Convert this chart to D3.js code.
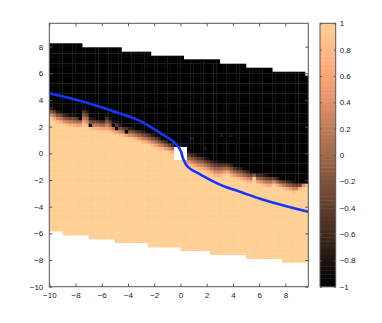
<!DOCTYPE html>
<html>
<head>
<meta charset="utf-8">
<script src="https://cdn.jsdelivr.net/npm/d3@7"></script>
<style>
  body { margin: 0; background: #fff; }
  svg text { font-family: "Liberation Sans", Arial, sans-serif; font-size: 8px; fill: #222; }
</style>
</head>
<body>
<div id="chart"></div>
<script>
// ---- data ----
var xTicks = [-10, -8, -6, -4, -2, 0, 2, 4, 6, 8];
var yTicks = [-10, -8, -6, -4, -2, 0, 2, 4, 6, 8];
var cbTicks = [-1, -0.8, -0.6, -0.4, -0.2, 0, 0.2, 0.4, 0.6, 0.8, 1];

// lower edge of the -1 (black) zone, one value per 0.25 column from x=-10
var darkEdge = [3.5, 3.45, 3.25, 3.2, 3.05, 3.0, 2.95, 2.95, 2.9, 2.9,
  3.45, 3.3, 2.75, 2.7, 2.65, 2.6, 2.6, 2.95, 2.7, 2.5,
  2.45, 2.25, 2.15, 2.1, 2.0, 1.95, 1.9, 1.85, 1.75, 1.7,
  1.6, 1.5, 1.4, 1.3, 1.15, 1.05, 0.9, 0.8, 0.65, 0.5,
  0.4, 0.3, 0.2, 0.1, 0.05, -0.05, -0.1, -0.2, -0.3, -0.4,
  -0.5, -0.55, -0.55, -0.6, -0.65, -0.7, -0.85, -0.95, -1.0, -1.1,
  -1.2, -1.35, -1.45, -1.45, -1.45, -1.5, -1.55, -1.6, -1.7, -1.75,
  -1.85, -1.9, -1.95, -2.0, -2.05, -2.15, -2.2, -2.2, -2.15];

// upper edge of the +1 (light) zone, same columns
var lightEdge = [2.6, 2.45, 2.3, 2.2, 2.1, 2.05, 2.0, 1.95, 1.9, 1.9,
  2.05, 1.95, 1.8, 1.75, 1.75, 1.7, 1.65, 1.6, 1.55, 1.45,
  1.35, 1.3, 1.25, 1.15, 1.1, 1.05, 0.95, 0.85, 0.75, 0.7,
  0.6, 0.5, 0.4, 0.3, 0.25, 0.15, 0.1, 0.0, -0.15, -0.35,
  -0.6, -0.8, -0.95, -1.05, -1.15, -1.25, -1.3, -1.4, -1.5, -1.65,
  -1.8, -1.8, -1.75, -1.65, -1.6, -1.8, -1.9, -2.0, -2.05, -2.15,
  -2.2, -2.25, -1.85, -2.3, -2.4, -2.5, -2.55, -2.55, -2.35, -2.5,
  -2.6, -2.7, -2.8, -2.85, -2.95, -2.9, -2.7, -2.45, -2.4];

// stepped outline of the data band
var topStepX = [-10, -7.58, -4.55, -2.18, 0.23, 2.9, 5.0, 7.1, 9.5, 9.75];
var topStepY = [8.25, 7.95, 7.62, 7.32, 7.05, 6.72, 6.42, 6.12, 5.82];
var botStepX = [-10, -9.1, -7.0, -4.9, -2.5, -0.1, 2.27, 5.0, 7.7, 9.75];
var botStepY = [-5.83, -6.13, -6.43, -6.7, -7.03, -7.3, -7.6, -7.9, -8.18];

// stray cells: [x, y, value]
var specks = [[-7.625, 2.625, -1], [-6.875, 2.125, -1], [-4.875, 1.875, -1],
  [-4.125, 1.625, -1], [-5.125, 2.125, -1], [0.875, 1.125, -0.8], [1.875, 0.375, -0.85],
  [3.125, 1.375, -0.85], [3.875, 1.375, -0.85]];

// empty cells near the origin
var hole = {x0: -0.4, x1: 0.45, y0: -0.45, y1: 0.5};

// blue curve
var curveX = [-10, -8.5, -7, -5, -3.5, -2.5, -1.5, -0.7, -0.2, 0.05, 0.2, 0.55, 1.6, 3.1, 4.6, 6.2, 7.8, 9.75];
var curveY = [4.5, 4.15, 3.75, 3.12, 2.62, 2.12, 1.5, 1.0, 0.55, 0.12, -0.38, -1.0, -1.63, -2.38, -2.9, -3.45, -3.9, -4.38];

// ---- layout ----
var W = 382, H = 323;
var plot = {left: 49.3, right: 308.3, top: 23.3, bottom: 286.7};
var cb = {left: 320, right: 335.7};
var step = 0.25;

var x = d3.scaleLinear().domain([-10, 9.75]).range([plot.left, plot.right]);
var y = d3.scaleLinear().domain([-10, 9.75]).range([plot.bottom, plot.top]);
var cbY = d3.scaleLinear().domain([-1, 1]).range([plot.bottom, plot.top]);

// copper-like colormap, slightly lighter at the top end like the picture
function copper(v){
  var t = (v + 1) / 2;
  return d3.rgb(255 * Math.min(1, 1.25 * t), 255 * 0.81 * t, 255 * 0.58 * t);
}

function stepVal(xs, ys, xv){
  for (var k = 0; k < ys.length; k++){
    if (xv >= xs[k] && xv < xs[k + 1]) return ys[k];
  }
  return ys[ys.length - 1];
}

var svg = d3.select("#chart").append("svg")
    .attr("width", W)
    .attr("height", H);

svg.append("defs").append("clipPath").attr("id", "clip")
  .append("rect")
    .attr("x", plot.left).attr("y", plot.top)
    .attr("width", plot.right - plot.left).attr("height", plot.bottom - plot.top);

// build cells
var cells = [];
darkEdge.forEach(function(dk, i){
  var x0 = -10 + i * step, x1 = x0 + step, xc = x0 + step / 2;
  var top = stepVal(topStepX, topStepY, xc),
    bot = stepVal(botStepX, botStepY, xc),
    lt = lightEdge[i];
  for (var y0 = -10; y0 < 9.75; y0 += step){
    var ya = Math.max(y0, bot), yb = Math.min(y0 + step, top);
    if (yb <= ya) continue;
    var yc = y0 + step / 2;
    if (xc > hole.x0 && xc < hole.x1 && yc > hole.y0 && yc < hole.y1) continue;
    var v;
    if (yc >= dk) v = -1;
    else if (yc <= lt) v = 1;
    else v = 1 - 2 * (yc - lt) / (dk - lt);
    specks.forEach(function(s){
      if (Math.abs(s[0] - xc) < 0.01 && Math.abs(s[1] - yc) < 0.01) v = s[2];
    });
    cells.push({x0: x0, x1: x1, y0: ya, y1: yb, v: v});
  }
});

var g = svg.append("g").attr("clip-path", "url(#clip)");

g.selectAll(".cell")
    .data(cells)
  .enter().append("rect")
    .attr("class", "cell")
    .attr("x", function(d){ return x(d.x0); })
    .attr("y", function(d){ return y(d.y1); })
    .attr("width", function(d){ return x(d.x1) - x(d.x0) + 0.3; })
    .attr("height", function(d){ return y(d.y0) - y(d.y1) + 0.3; })
    .attr("fill", function(d){ return copper(d.v); });

var line = d3.line()
    .x(function(d){ return x(d[0]); })
    .y(function(d){ return y(d[1]); })
    .curve(d3.curveCatmullRom.alpha(0.5));

g.append("path")
    .datum(curveX.map(function(v, i){ return [v, curveY[i]]; }))
    .attr("d", line)
    .attr("fill", "none")
    .attr("stroke", "#1236ff")
    .attr("stroke-width", 2.6);

// axes (MATLAB style: inward ticks on all four sides)
function drawAxis(axis, tr){
  var a = svg.append("g").attr("transform", tr).call(axis);
  a.select(".domain").remove();
  a.selectAll(".tick line").attr("stroke", "#555");
  a.selectAll(".tick text").attr("fill", "#222").style("font-size", "8px");
  return a;
}

drawAxis(d3.axisBottom(x).tickValues(xTicks).tickSize(-3).tickPadding(6).tickFormat(d3.format("d")),
  "translate(0," + plot.bottom + ")");
drawAxis(d3.axisTop(x).tickValues(xTicks).tickSize(-3).tickFormat(""),
  "translate(0," + plot.top + ")");
drawAxis(d3.axisLeft(y).tickValues(yTicks).tickSize(-3).tickPadding(6).tickFormat(d3.format("d")),
  "translate(" + plot.left + ",0)");
drawAxis(d3.axisRight(y).tickValues(yTicks).tickSize(-3).tickFormat(""),
  "translate(" + plot.right + ",0)");

svg.append("rect")
    .attr("x", plot.left).attr("y", plot.top)
    .attr("width", plot.right - plot.left).attr("height", plot.bottom - plot.top)
    .attr("fill", "none")
    .attr("stroke", "#555")
    .attr("stroke-width", 1);

// colorbar
var levels = d3.range(64).map(function(k){ return -1 + 2 * k / 64; });
svg.selectAll(".cb")
    .data(levels)
  .enter().append("rect")
    .attr("class", "cb")
    .attr("x", cb.left)
    .attr("y", function(d){ return cbY(d + 2 / 64); })
    .attr("width", cb.right - cb.left)
    .attr("height", cbY(-1) - cbY(-1 + 2 / 64) + 0.4)
    .attr("fill", function(d){ return copper(d + 1 / 64); });

drawAxis(d3.axisRight(cbY).tickValues(cbTicks).tickSize(-2).tickPadding(4)
    .tickFormat(function(d){ return d === 0 ? "0" : (Math.abs(d) === 1 ? d3.format("d")(d) : d3.format(".1f")(d)); }),
  "translate(" + cb.right + ",0)");
drawAxis(d3.axisLeft(cbY).tickValues(cbTicks).tickSize(-2).tickFormat(""),
  "translate(" + cb.left + ",0)");

svg.append("rect")
    .attr("x", cb.left).attr("y", plot.top)
    .attr("width", cb.right - cb.left).attr("height", plot.bottom - plot.top)
    .attr("fill", "none")
    .attr("stroke", "#555")
    .attr("stroke-width", 1);
</script>
</body>
</html>
